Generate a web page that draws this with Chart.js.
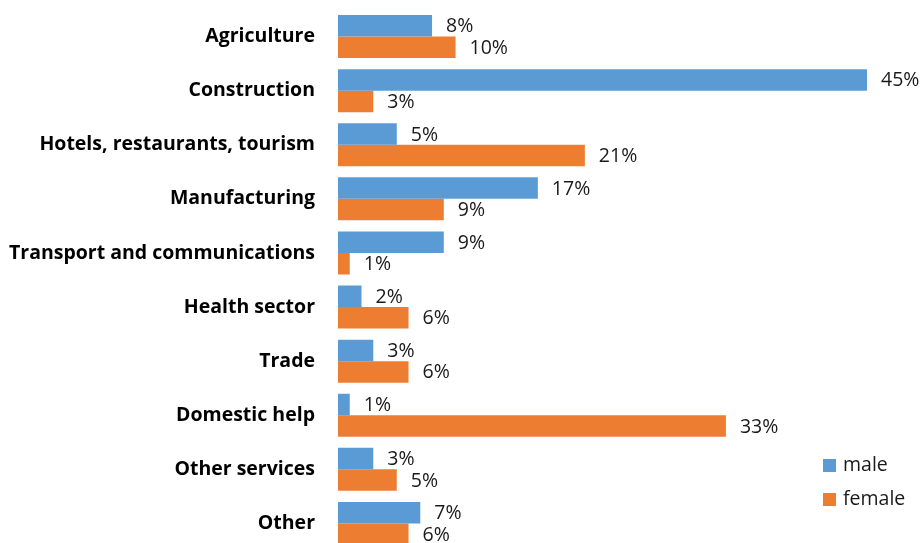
<!DOCTYPE html>
<html>
<head>
<meta charset="utf-8">
<script src="https://cdn.jsdelivr.net/npm/chart.js@4.4.1/dist/chart.umd.min.js"></script>
<style>
    html, body { margin: 0; padding: 0; background: #fff; overflow: hidden; }
    #wrap { position: relative; width: 924px; height: 560px; }
</style>
</head>
<body>
<div id="wrap"><canvas id="sectorChart"></canvas></div>
<script>
// ========== DATA ==========
const sectors = [
    'Agriculture',
    'Construction',
    'Hotels, restaurants, tourism',
    'Manufacturing',
    'Transport and communications',
    'Health sector',
    'Trade',
    'Domestic help',
    'Other services',
    'Other'
];
const maleShare = [8, 45, 5, 17, 9, 2, 3, 1, 3, 7];
const femaleShare = [10, 3, 21, 9, 1, 6, 6, 33, 5, 6];
const seriesNames = ['male', 'female'];

const MALE_COLOR = '#5b9bd5';
const FEMALE_COLOR = '#ed7d31';
const FONT = '"Open Sans", sans-serif';

// ========== VALUE LABELS AT BAR ENDS ==========
const valueLabels = {
    id: 'valueLabels',
    afterDatasetsDraw(chart) {
        const ctx = chart.ctx;
        ctx.save();
        ctx.font = '19.5px ' + FONT;
        ctx.fillStyle = '#1a1a1a';
        ctx.textAlign = 'left';
        ctx.textBaseline = 'middle';
        chart.data.datasets.forEach((ds, i) => {
            chart.getDatasetMeta(i).data.forEach((bar, j) => {
                ctx.fillText(ds.data[j] + '%', bar.x + 14, bar.y + 1);
            });
        });
        ctx.restore();
    }
};

// ========== LEGEND (inside plot, lower right) ==========
const cornerLegend = {
    id: 'cornerLegend',
    afterDraw(chart) {
        const ctx = chart.ctx;
        const colors = [MALE_COLOR, FEMALE_COLOR];
        ctx.save();
        ctx.font = '19.5px ' + FONT;
        ctx.textBaseline = 'middle';
        seriesNames.forEach((name, i) => {
            const y = 459 + i * 34;
            ctx.fillStyle = colors[i];
            ctx.fillRect(823, y, 13, 13);
            ctx.fillStyle = '#1a1a1a';
            ctx.fillText(name, 843, y + 6);
        });
        ctx.restore();
    }
};

new Chart(document.getElementById('sectorChart'), {
    type: 'bar',
    data: {
        labels: sectors,
        datasets: [
            { label: seriesNames[0], data: maleShare, backgroundColor: MALE_COLOR },
            { label: seriesNames[1], data: femaleShare, backgroundColor: FEMALE_COLOR }
        ]
    },
    options: {
        indexAxis: 'y',
        responsive: true,
        maintainAspectRatio: false,
        animation: false,
        categoryPercentage: 0.795,
        barPercentage: 1.0,
        layout: { padding: { top: 9.5, bottom: 9.5, left: 0, right: 57 } },
        plugins: {
            legend: { display: false },
            tooltip: { enabled: false }
        },
        scales: {
            x: {
                display: false,
                min: 0,
                max: 45
            },
            y: {
                grid: { display: false, drawTicks: false },
                border: { display: false },
                ticks: {
                    color: '#000',
                    padding: 23,
                    font: { family: FONT, size: 19.5, weight: 'bold' }
                },
                afterFit(scale) {
                    // fixed label column; drop the vertical padding the tick padding adds
                    scale.width = 338;
                    scale.paddingTop = 0;
                    scale.paddingBottom = 0;
                }
            }
        }
    },
    plugins: [valueLabels, cornerLegend]
});
</script>
</body>
</html>
